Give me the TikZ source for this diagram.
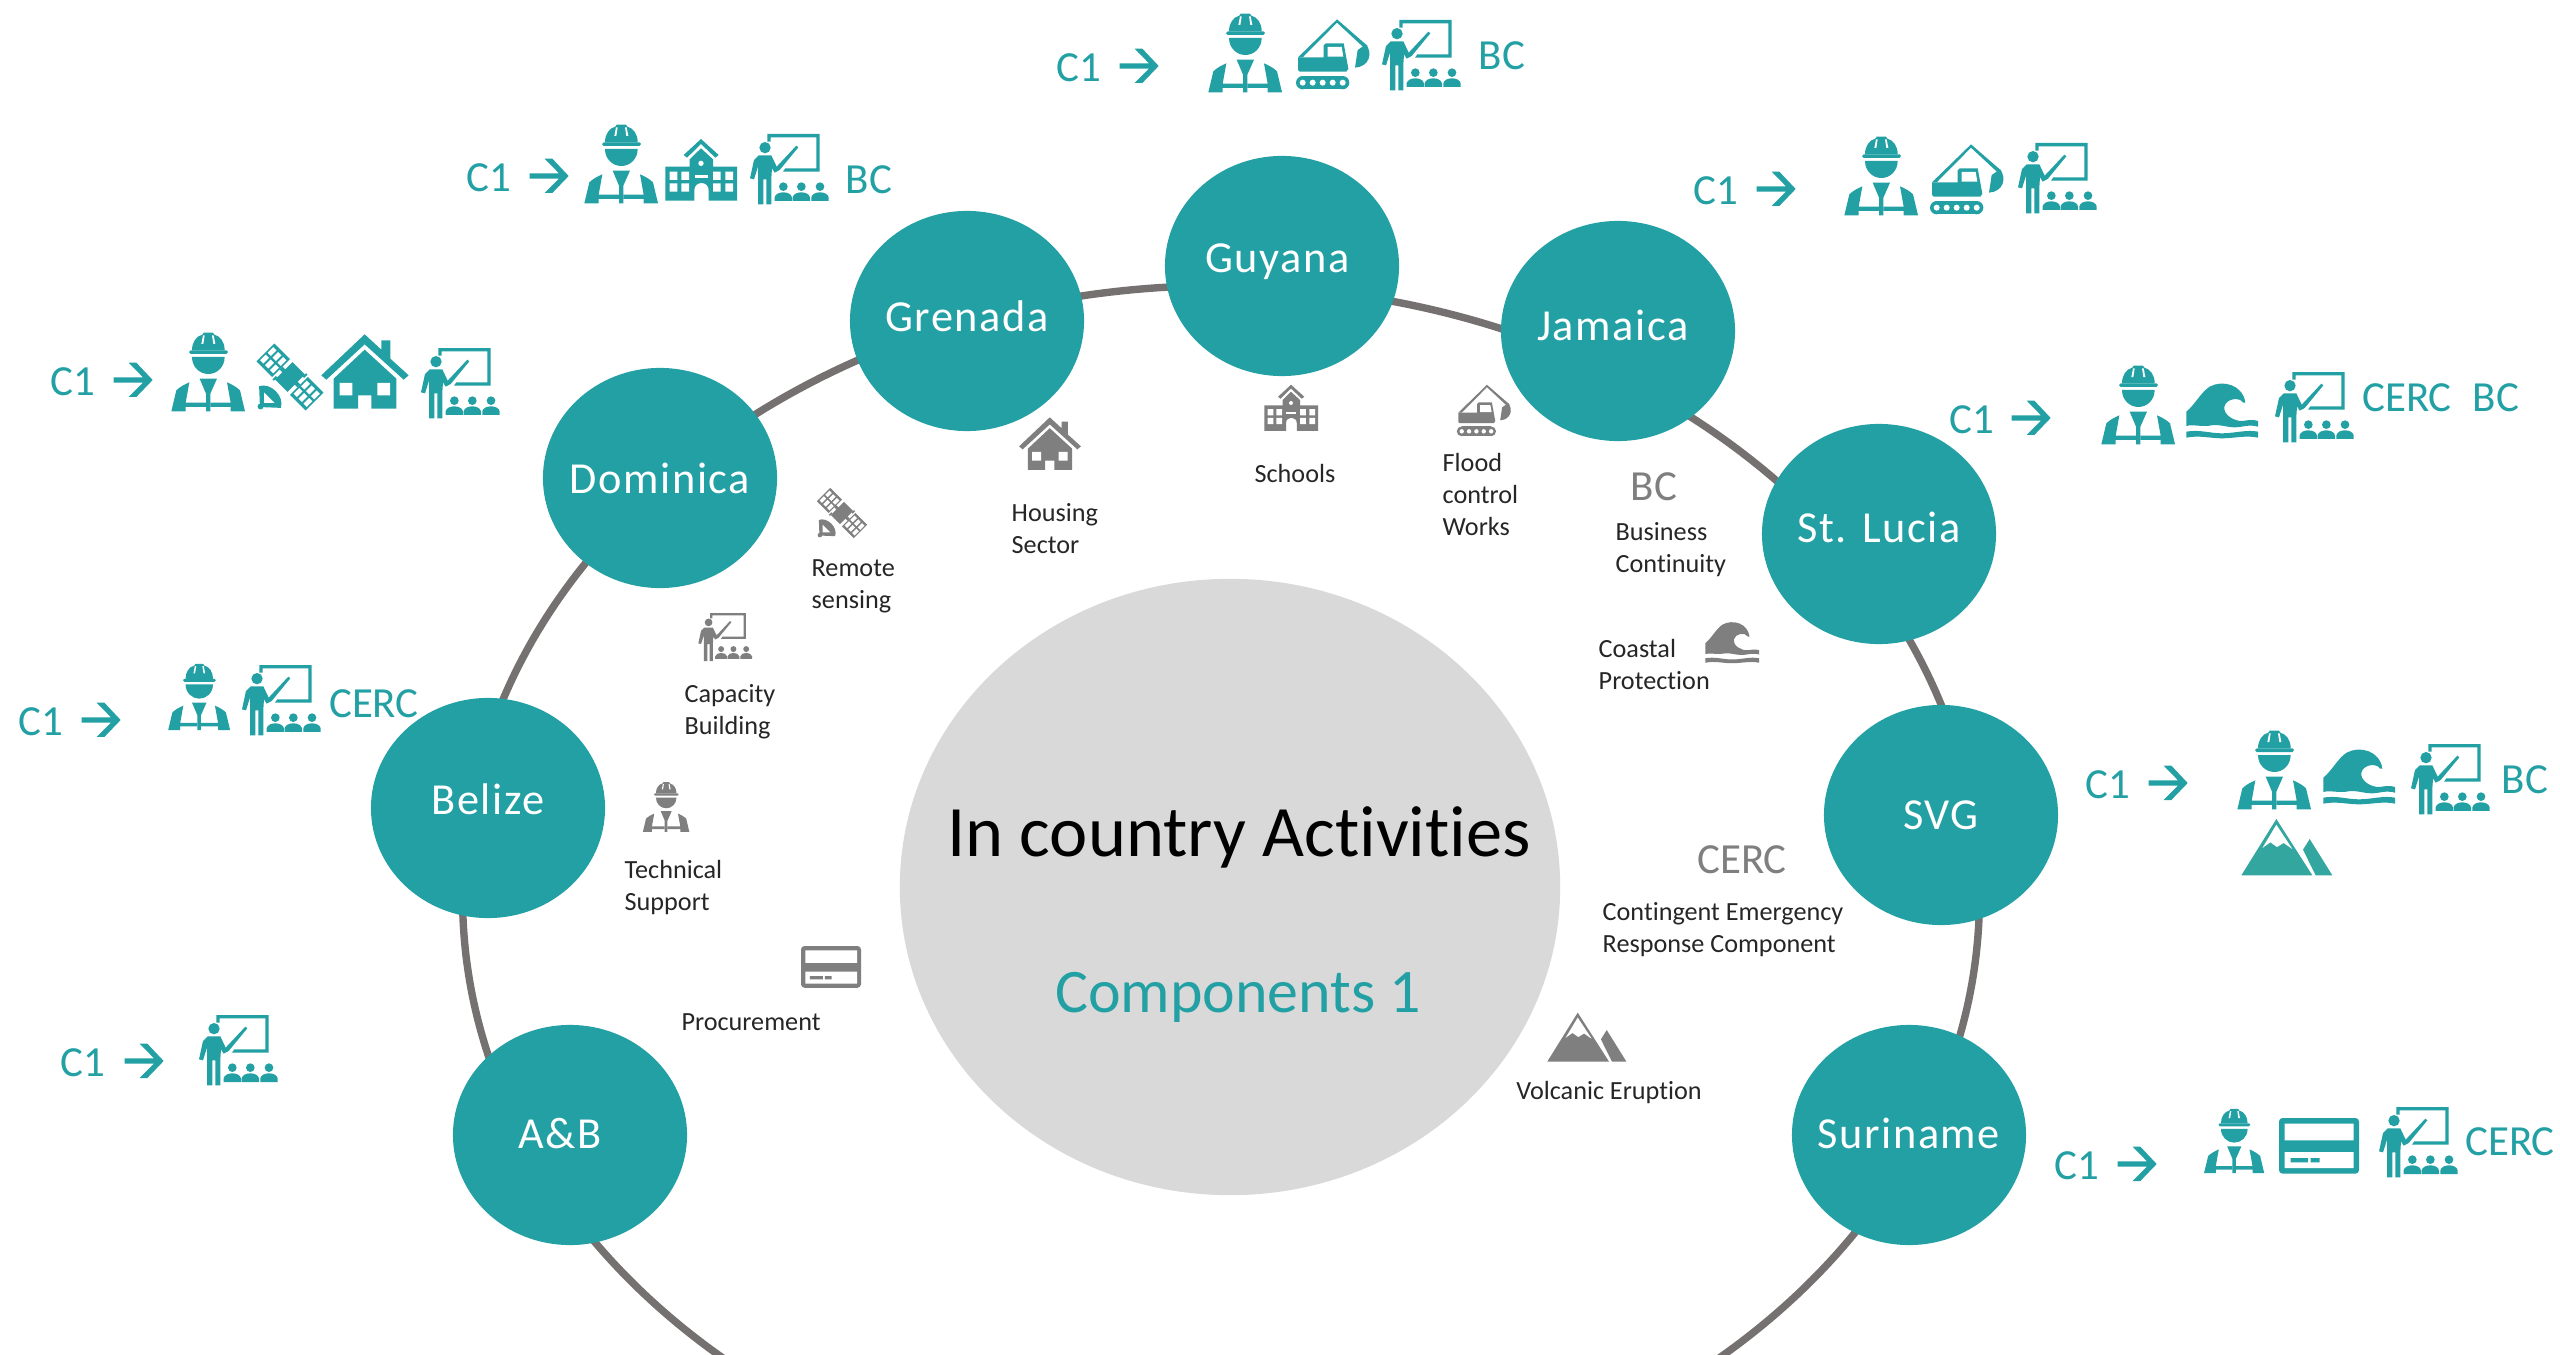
\documentclass[tikz,border=0pt]{standalone}
\usepackage{fontspec}
\setmainfont{Carlito}[Ligatures={NoCommon}]
\newfontfamily\ctryfont{Carlito}[Ligatures={NoCommon},LetterSpace=3.5]
\usetikzlibrary{shapes.geometric}
\definecolor{tl}{HTML}{22A0A4}
\definecolor{mtn}{HTML}{33A69F}
\definecolor{gic}{HTML}{7F7F7F}
\definecolor{ringc}{HTML}{767171}
\definecolor{hub}{HTML}{D9D9D9}
\definecolor{lab}{HTML}{262626}
\newcommand{\ctry}[3][0pt]{\raisebox{#2}{\makebox[0pt]{#3\kern #1}}}
\tikzset{
  x=0.01cm,y=-0.01cm,
  country/.style={ellipse,fill=tl,text=white,inner sep=0pt,minimum width=2.34cm,minimum height=2.2cm,font=\ctryfont\fontsize{12.6}{15}\selectfont},
  tealtxt/.style={text=tl,inner sep=0pt,font=\fontsize{12.2}{15}\selectfont},
  greytxt/.style={text=gic,inner sep=0pt,font=\fontsize{12.2}{15}\selectfont},
  small/.style={text=lab,inner sep=0pt,align=left,font=\fontsize{7.45}{9.1}\selectfont},
  worker/.pic={\begin{scope}[shift={(-585,-160)}]
    \fill (537,95) .. controls (537,70) and (550,52) .. (568,48) -- (572,42) -- (600,42) -- (604,48) .. controls (622,52) and (635,70) .. (635,95) -- cycle;
    \fill (533,95) -- (640,95) -- (645,100) -- (640,106) -- (533,106) -- (528,100) -- cycle;
    \fill[white] (565,76) -- (570,50) -- (575,50) -- (571,76) -- cycle (607,76) -- (602,50) -- (597,50) -- (601,76) -- cycle;
    \fill (537,115) -- (635,115) .. controls (635,145) and (612,166) .. (586,166) .. controls (560,166) and (537,145) .. (537,115) -- cycle;
    \fill (560,180) -- (612,180) -- (592,225) -- (592,278) -- (579,278) -- (579,225) -- cycle;
    \fill (475,278) -- (490,215) .. controls (500,205) and (515,197) .. (529,191) -- (518,252) -- (579,252) -- (579,265) -- (518,265) -- (518,278) -- cycle;
    \fill (696,278) -- (681,215) .. controls (671,205) and (656,197) .. (642,191) -- (653,252) -- (592,252) -- (592,265) -- (653,265) -- (653,278) -- cycle;
  \end{scope}},
  excav/.pic={\begin{scope}[shift={(-846,-165)}]
    \fill (741,172) -- (858,58) -- (950,138) -- (942,146) -- (858,68) -- (755,172) -- cycle;
    \fill (945,133) .. controls (966,160) and (955,200) .. (912,203) -- (920,150) -- cycle;
    \fill (741,172) -- (818,172) -- (818,136) -- (824,130) -- (878,130) -- (892,206) -- (886,215) -- (746,215) -- (741,210) -- cycle;
    \fill[white] (830,141) -- (872,141) -- (877,170) -- (830,170) -- cycle;
    \fill (755,228) rectangle (875,268);
    \fill (755,248) circle[radius=20];
    \fill (875,248) circle[radius=20];
    \foreach \cx in {755,785,815,845,875} \fill[white] (\cx,248) circle[radius=9];
  \end{scope}},
  teacher/.pic={\begin{scope}[shift={(-1113,-167)}]
    \fill (1048,62) -- (1205,62) -- (1205,175) -- (1095,175) -- (1102,165) -- (1195,165) -- (1195,72) -- (1058,72) -- (1058,85) -- (1048,85) -- cycle;
    \fill (1041,103) circle[radius=17];
    \fill (1022,126) -- (1060,126) -- (1076,160) -- (1135,97) -- (1141,102) -- (1085,170) -- (1070,178) -- (1062,165) -- (1060,195) -- (1060,273) -- (1045,273) -- (1045,198) -- (1036,198) -- (1036,273) -- (1020,273) -- (1020,160) -- (1008,198) -- (996,195) -- (1008,140) -- cycle;
    \foreach \cx in {1096,1150,1206} {
      \fill (\cx,220) circle[radius=13];
      \fill (\cx-26,263) -- (\cx-26,252) .. controls (\cx-22,232) and (\cx+22,232) .. (\cx+26,252) -- (\cx+26,263) -- cycle;
    }
  \end{scope}},
  house/.pic={\begin{scope}[shift={(-1036,-155)}]
    \fill (905,165) -- (1035,42) -- (1085,88) -- (1085,60) -- (1112,60) -- (1112,115) -- (1167,165) -- (1152,178) -- (1035,72) -- (920,178) -- cycle;
    \fill (942,175) -- (1035,88) -- (1130,175) -- (1130,265) -- (1055,265) -- (1055,225) -- (1015,225) -- (1015,265) -- (942,265) -- cycle;
    \fill[white] (960,188) rectangle (998,225) (1073,188) rectangle (1111,225);
  \end{scope}},
  wave/.pic={\begin{scope}[shift={(-427,-180)}]
    \fill (320,185) .. controls (345,165) and (365,125) .. (390,110) .. controls (430,88) and (490,105) .. (497,158) -- (490,158) .. controls (480,140) and (440,145) .. (434,170) .. controls (430,195) and (465,215) .. (490,213) .. controls (505,210) and (520,208) .. (535,213) -- (535,230) .. controls (505,222) and (490,232) .. (465,232) .. controls (440,232) and (420,222) .. (395,226) .. controls (370,232) and (340,222) .. (320,228) -- cycle;
    \fill (320,245) .. controls (360,238) and (390,250) .. (427,250) .. controls (465,250) and (500,238) .. (535,245) -- (535,263) .. controls (500,255) and (465,265) .. (427,265) .. controls (390,265) and (360,255) .. (320,263) -- cycle;
  \end{scope}},
  mountain/.pic={\begin{scope}[shift={(-262,-412)}]
    \fill (125,497) -- (230,328) -- (338,497) -- cycle;
    \fill (348,497) -- (310,420) -- (330,388) -- (398,497) -- cycle;
    \fill[white] (230,345) -- (278,418) -- (252,400) -- (232,412) -- (212,398) -- (188,415) -- cycle;
  \end{scope}},
  card/.pic={\begin{scope}[shift={(-358,-167)}]
    \fill[rounded corners=1pt] (238,83) rectangle (478,250);
    \fill[white] (255,100) rectangle (462,150) (255,185) rectangle (462,233);
    \fill (273,203) rectangle (325,216) (333,203) rectangle (360,216);
  \end{scope}},
  school/.pic={\begin{scope}[shift={(-722,-150)}]
    \fill (670,105) -- (722,57) -- (775,105) -- (765,113) -- (722,72) -- (680,113) -- cycle;
    \fill (615,140) -- (688,140) -- (688,118) -- (722,85) -- (758,118) -- (758,140) -- (830,140) -- (830,242) -- (745,242) -- (745,210) .. controls (745,182) and (702,182) .. (702,210) -- (702,242) -- (615,242) -- cycle;
    \fill[white] (722,130) circle[radius=8];
    \fill[white] (703,165) rectangle (743,175);
    \foreach \wx in {628,663,758,795} \fill[white] (\wx,155) rectangle ++(23,25) (\wx,190) rectangle ++(23,25);
  \end{scope}},
  sat/.pic={\begin{scope}[rotate=-45]
    \fill (-26,-37) rectangle (26,37);
    \fill (-38,-6) rectangle (38,6);
    \fill (26,-42) rectangle (32,-28);
    \fill (-32,28) rectangle (-26,42);
    \foreach \pu in {-71,71} {
      \fill (\pu-33,-38) rectangle (\pu+33,38);
      \foreach \hu in {-21,0,21} \foreach \hv in {-16,16} \fill[white] (\pu+\hu-7,\hv-12) rectangle ++(14,24);
    }
    \fill (-46,85) .. controls (-30,52) and (30,52) .. (46,85) -- (6,122) -- (-6,122) -- cycle;
    \fill[white] (-22,88) -- (22,88) -- (0,110) -- cycle;
    \fill (0,125) circle[radius=9];
  \end{scope}},
  arrowg/.pic={\begin{scope}[shift={(-268,-197)}]
    \fill (210,189) -- (298,189) -- (255,145) -- (278,145) -- (327,197) -- (278,248) -- (255,248) -- (298,205) -- (210,205) -- cycle;
  \end{scope}},
}
\newcommand{\icn}[5]{\pic[scale=#4,color=#5] at (#2,#3) {#1};}
\newcommand{\lead}[4]{\node[tealtxt] (#1) at (#2,#3) {C1}; \pic[scale=.3333,color=tl] at (#4,#3-2) {arrowg};}
\begin{document}
\begin{tikzpicture}
\clip (0,0) rectangle (2560,1355);
\fill[white] (0,0) rectangle (2560,1355);
% ring
\node[ellipse,draw=ringc,line width=2.1pt,inner sep=0pt,minimum width=15.16cm,minimum height=12.22cm] (ring) at (1221,897) {};
% hub
\node[ellipse,fill=hub,inner sep=0pt,minimum width=6.6cm,minimum height=6.16cm] (hub) at (1230,887) {};
\node[inner sep=0pt,text=black,font=\fontsize{20.6}{25}\selectfont] (title) at (1239,837) {In country Activities};
\node[inner sep=0pt,text=tl,font=\fontsize{17.6}{21}\selectfont] (comp) at (1238,997) {Components 1};
% countries
\node[country] (guy) at (1282,266) {\ctry[2.6pt]{4.3pt}{Guyana}};
\node[country] (gre) at (967,321) {\ctry{2.8pt}{Grenada}};
\node[country] (jam) at (1618,331) {\ctry[3pt]{3.3pt}{Jamaica}};
\node[country] (dom) at (660,478) {\ctry{-0.8pt}{Dominica}};
\node[country] (luc) at (1879,534) {\ctry{3.7pt}{St. Lucia}};
\node[country] (bel) at (488,808) {\ctry{4.8pt}{Belize}};
\node[country] (svg) at (1941,815) {\ctry{-0.8pt}{SVG}};
\node[country] (ab) at (570,1135) {\ctry[5.6pt]{0.7pt}{A\&B}};
\node[country] (sur) at (1909,1135) {\ctry{0.9pt}{Suriname}};
% top rows
\lead{c1guy}{1079}{68}{1139}
\icn{worker}{1245}{53}{.3333}{tl}
\icn{excav}{1333}{55}{.3333}{tl}
\icn{teacher}{1421}{55}{.3333}{tl}
\node[tealtxt] (bcguy) at (1502,56) {BC};
\lead{c1gre}{489}{178}{549}
\icn{worker}{621}{164}{.3333}{tl}
\icn{school}{701}{170}{.3333}{tl}
\icn{teacher}{789}{169}{.3333}{tl}
\node[tealtxt] (bcgre) at (869,180) {BC};
\lead{c1dom}{73}{382}{133}
\icn{worker}{208}{372}{.3333}{tl}
\icn{sat}{290}{377}{.3333}{tl}
\icn{house}{365}{372}{.3333}{tl}
\icn{teacher}{460}{383}{.3333}{tl}
\lead{c1jam}{1716}{191}{1776}
\icn{worker}{1881}{176}{.3333}{tl}
\icn{excav}{1967}{180}{.3333}{tl}
\icn{teacher}{2057}{178}{.3333}{tl}
\lead{c1luc}{1972}{420}{2031}
\icn{worker}{2138}{405}{.3333}{tl}
\icn{wave}{2222}{410}{.3333}{tl}
\icn{teacher}{2314}{407}{.3333}{tl}
\node[tealtxt] (celuc) at (2407,398) {CERC};
\node[tealtxt] (bcluc) at (2496,398) {BC};
\lead{c1svg}{2108}{785}{2168}
\icn{worker}{2274}{770}{.3333}{tl}
\icn{wave}{2359}{776}{.3333}{tl}
\icn{teacher}{2450}{779}{.3333}{tl}
\node[tealtxt] (bcsvg) at (2525,780) {BC};
\icn{mountain}{2287}{847}{.3333}{mtn}
\lead{c1sur}{2077}{1166}{2137}
\icn{worker}{2234}{1141}{.272}{tl}
\icn{card}{2319}{1146}{.3333}{tl}
\icn{teacher}{2418}{1142}{.3333}{tl}
\node[tealtxt] (cesur) at (2510,1142) {CERC};
\lead{c1bel}{41}{722}{101}
\icn{worker}{199}{697}{.28}{tl}
\icn{teacher}{281}{700}{.3333}{tl}
\node[tealtxt] (cebel) at (374,704) {CERC};
\lead{c1ab}{83}{1063}{144}
\icn{teacher}{238}{1050}{.3333}{tl}
% inner legend
\icn{house}{1050}{444}{.236}{gic}
\node[small,anchor=west] (lhou) at (1011,529) {Housing\\Sector};
\icn{school}{1291}{408}{.25}{gic}
\node[small] (lsch) at (1295,474) {Schools};
\icn{excav}{1484}{411}{.245}{gic}
\node[small,anchor=west] (lflo) at (1442,495) {Flood\\control\\Works};
\node[greytxt] (lbc) at (1654,487) {BC};
\node[small,anchor=west] (lbus) at (1615,550) {Business\\Continuity};
\node[small,anchor=west] (lcoa) at (1598,664) {Coastal\\Protection};
\icn{wave}{1732}{642}{.25}{gic}
\node[greytxt] (lcer) at (1742,860) {CERC};
\node[small,anchor=west] (lcon) at (1602,930) {Contingent Emergency\\Response Component};
\icn{mountain}{1587}{1037}{.29}{gic}
\node[small] (lvol) at (1609,1093) {Volcanic Eruption};
\icn{card}{831}{967}{.25}{gic}
\node[small] (lpro) at (751,1022) {Procurement};
\icn{worker}{666}{807}{.21}{gic}
\node[small,anchor=west] (ltec) at (624,888) {Technical\\Support};
\icn{teacher}{725}{637}{.228}{gic}
\node[small,anchor=west] (lcap) at (684,712) {Capacity\\Building};
\icn{sat}{842}{513}{.25}{gic}
\node[small,anchor=west] (lrem) at (811,586) {Remote\\sensing};
\end{tikzpicture}
\end{document}
